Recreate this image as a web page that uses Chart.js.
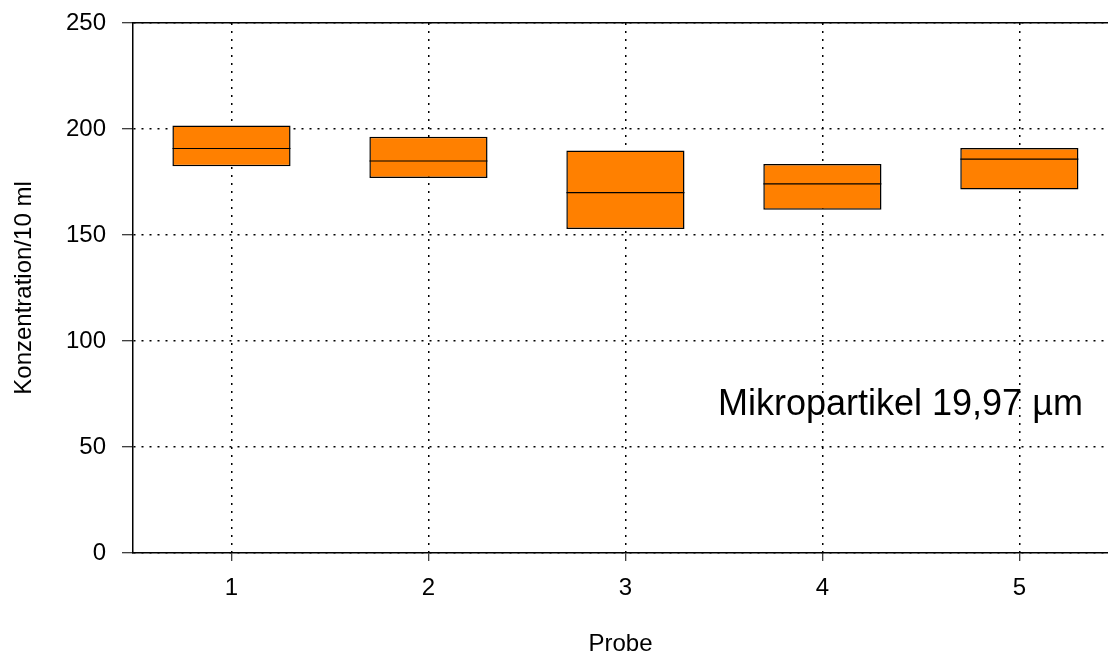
<!DOCTYPE html>
<html>
<head>
<meta charset="utf-8">
<script src="https://cdn.jsdelivr.net/npm/chart.js@4"></script>
<style>
  html, body { margin: 0; padding: 0; background: #fff; }
  #wrap { width: 1108px; height: 655px; }
</style>
</head>
<body>
<div id="wrap"><canvas id="boxChart"></canvas></div>
<script>
// Proben und Boxwerte (unteres Quartil, Median, oberes Quartil)
const proben = ['1', '2', '3', '4', '5'];
const q1 = [182.4, 176.9, 152.8, 161.9, 171.5];
const median = [190.8, 184.9, 170.0, 174.1, 185.8];
const q3 = [201.7, 196.4, 189.9, 183.5, 191.0];
const yTicks = [0, 50, 100, 150, 200, 250];

const FONT = '"Liberation Sans", Arial, sans-serif';
const dotted = [2, 6];

// Text im Diagramm
const annotation = {
    id: 'annotation',
    afterDraw(chart) {
        const ctx = chart.ctx;
        ctx.save();
        ctx.font = '36px ' + FONT;
        ctx.fillStyle = '#000';
        ctx.textBaseline = 'middle';
        ctx.fillText('Mikropartikel 19,97 µm', 718, 405);
        ctx.restore();
    }
};

new Chart(document.getElementById('boxChart'), {
    type: 'bar',
    data: {
        datasets: [{
            label: 'Box',
            data: proben.map((p, i) => ({ x: i + 1, y: [q1[i], q3[i]] })),
            backgroundColor: '#FF8000',
            borderColor: '#000',
            borderWidth: 1.5,
            borderSkipped: false,
            barPercentage: 0.6,
            categoryPercentage: 1,
            order: 2
        }, {
            label: 'Median',
            type: 'scatter',
            data: proben.map((p, i) => ({ x: i + 1, y: median[i] })),
            pointStyle: 'line',
            pointRadius: 59,
            pointHoverRadius: 59,
            borderColor: '#000',
            borderWidth: 1.2,
            showLine: false,
            order: 1
        }]
    },
    options: {
        responsive: true,
        maintainAspectRatio: false,
        animation: false,
        layout: { padding: 0, autoPadding: false },
        plugins: {
            legend: { display: false },
            tooltip: { enabled: false }
        },
        scales: {
            x: {
                type: 'linear',
                position: 'bottom',
                min: 0.5,
                max: 5.45,
                offset: false,
                afterBuildTicks: s => { s.ticks = proben.map((p, i) => ({ value: i + 1 })); },
                afterFit: s => { s.height = 102; s.paddingLeft = 0; s.paddingRight = 0; },
                ticks: {
                    callback: (v, i) => proben[i],
                    color: '#000',
                    font: { family: FONT, size: 24 },
                    padding: 13,
                    maxRotation: 0
                },
                grid: {
                    offset: false,
                    color: '#000',
                    lineWidth: 1.5,
                    tickLength: 8,
                    tickWidth: 1,
                    tickBorderDash: []
                },
                border: { color: '#000', width: 1.5, dash: dotted },
                title: {
                    display: true,
                    text: 'Probe',
                    color: '#000',
                    font: { family: FONT, size: 24 },
                    padding: { top: 8, bottom: -4 }
                }
            },
            top: {
                type: 'linear',
                position: 'top',
                min: 0.5,
                max: 5.45,
                afterFit: s => { s.height = 23; },
                ticks: { display: false },
                grid: { drawOnChartArea: false, drawTicks: false },
                border: { color: '#000', width: 1.5 }
            },
            y: {
                min: 0,
                max: 250,
                afterBuildTicks: s => { s.ticks = yTicks.map(v => ({ value: v })); },
                afterFit: s => { s.width = 133; s.paddingTop = 0; s.paddingBottom = 0; },
                ticks: {
                    color: '#000',
                    font: { family: FONT, size: 24 },
                    padding: 16
                },
                grid: {
                    color: '#000',
                    lineWidth: 1.5,
                    tickLength: 11,
                    tickWidth: 1,
                    tickBorderDash: []
                },
                border: { color: '#000', width: 1.5, dash: dotted },
                title: {
                    display: true,
                    text: 'Konzentration/10 ml',
                    color: '#000',
                    font: { family: FONT, size: 24 },
                    padding: { top: 10, bottom: 4 }
                }
            }
        }
    },
    plugins: [annotation]
});
</script>
</body>
</html>
